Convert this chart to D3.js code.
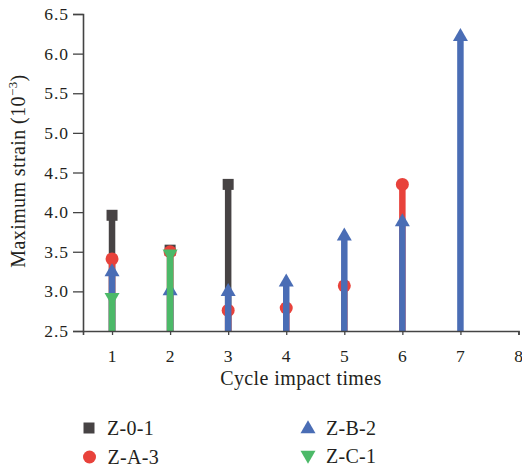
<!DOCTYPE html>
<html>
<head>
<meta charset="utf-8">
<script src="https://cdn.jsdelivr.net/npm/d3@7"></script>
<style>
  html, body { margin: 0; padding: 0; background: #fff; }
  svg { display: block; font-family: "Liberation Serif", "DejaVu Serif", serif; }
</style>
</head>
<body>
<svg id="chart" width="522" height="470"></svg>
<script>
// Cycle impact times on the x axis
const cycles = [1, 2, 3, 4, 5, 6, 7];

// Maximum strain (10^-3) per specimen; null where no test was recorded
const z01 = [3.96, 3.52, 4.35, null, null, null, null];
const zA3 = [3.41, 3.50, 2.76, 2.79, 3.07, 4.35, null];
const zB2 = [3.27, 3.03, 3.02, 3.14, 3.72, 3.90, 6.24];
const zC1 = [2.90, 3.45, null, null, null, null, null];

const xTicks = [1, 2, 3, 4, 5, 6, 7, 8];
const yTicks = [2.5, 3.0, 3.5, 4.0, 4.5, 5.0, 5.5, 6.0, 6.5];

const series = [
  { name: "Z-0-1", values: z01, color: "#474344", shape: "square" },
  { name: "Z-A-3", values: zA3, color: "#e8423b", shape: "circle" },
  { name: "Z-B-2", values: zB2, color: "#4a6db5", shape: "up" },
  { name: "Z-C-1", values: zC1, color: "#4cb968", shape: "down" }
];

const svg = d3.select("#chart");
const axisColor = "#444";
const textColor = "#231f20";

const x = d3.scaleLinear().domain([0.5, 8]).range([83, 518.5]);
const y = d3.scaleLinear().domain([2.5, 6.5]).range([331, 14]);

// Marker path generators
function markerPath(shape) {
  if (shape === "square") return "M-5.5,-5.5H5.5V5.5H-5.5Z";
  if (shape === "circle") return d3.symbol().type(d3.symbolCircle).size(Math.PI * 6.5 * 6.5)();
  if (shape === "up") return "M0,-6.7L7.5,6.3L-7.5,6.3Z";
  return "M0,6.7L7.5,-6.3L-7.5,-6.3Z";
}

// Stems and markers, one layer per series
series.forEach(s => {
  const g = svg.append("g");
  const pts = cycles.map((c, i) => ({ c, v: s.values[i] })).filter(d => d.v != null);
  g.selectAll("line").data(pts).join("line")
    .attr("x1", d => x(d.c)).attr("x2", d => x(d.c))
    .attr("y1", y(2.5)).attr("y2", d => y(d.v))
    .attr("stroke", s.color).attr("stroke-width", 6.5);
  g.selectAll("path").data(pts).join("path")
    .attr("transform", d => `translate(${x(d.c)},${y(d.v)})`)
    .attr("d", markerPath(s.shape))
    .attr("fill", s.color);
});

// Axes
const yAxis = svg.append("g")
  .attr("transform", `translate(${x(0.5)},0)`)
  .call(d3.axisLeft(y).tickValues(yTicks).tickFormat(d3.format(".1f")).tickSize(10).tickPadding(4));
const xAxis = svg.append("g")
  .attr("transform", `translate(0,${y(2.5)})`)
  .call(d3.axisBottom(x).tickValues(xTicks).tickFormat(d3.format("d")).tickSize(4).tickPadding(10));

[yAxis, xAxis].forEach(a => {
  a.select(".domain").attr("stroke", axisColor).attr("stroke-width", 1.6);
  a.selectAll(".tick line").attr("stroke", axisColor).attr("stroke-width", 1.3);
  a.selectAll(".tick text")
    .attr("fill", textColor)
    .style("font-family", '"Liberation Serif", "DejaVu Serif", serif')
    .style("font-size", "17.5px")
    .style("letter-spacing", "1px");
});
xAxis.selectAll(".tick text").attr("y", 31).attr("dy", 0);

// Axis titles
svg.append("text")
  .attr("x", 301).attr("y", 385)
  .attr("text-anchor", "middle")
  .attr("fill", textColor)
  .style("font-size", "20px")
  .style("letter-spacing", "0.4px")
  .text("Cycle impact times");

const yTitle = svg.append("text")
  .attr("transform", "translate(25,171) rotate(-90)")
  .attr("text-anchor", "middle")
  .attr("fill", textColor)
  .style("font-size", "20px")
  .style("letter-spacing", "0.4px");
yTitle.append("tspan").text("Maximum strain (10");
yTitle.append("tspan").attr("dy", -8).style("font-size", "13px").text("−3");
yTitle.append("tspan").attr("dy", 8).text(")");

// Legend
const legendPos = [
  { x: 89, y: 428, ty: 435 },
  { x: 89.5, y: 457, ty: 464 },
  { x: 308, y: 427, ty: 435 },
  { x: 308, y: 457, ty: 463 }
];
series.forEach((s, i) => {
  const p = legendPos[i];
  svg.append("path")
    .attr("transform", `translate(${p.x},${p.y})`)
    .attr("d", markerPath(s.shape))
    .attr("fill", s.color);
  svg.append("text")
    .attr("x", p.x + 18).attr("y", p.ty)
    .attr("fill", textColor)
    .style("font-size", "20px")
    .style("letter-spacing", "0.3px")
    .text(s.name);
});
</script>
</body>
</html>
